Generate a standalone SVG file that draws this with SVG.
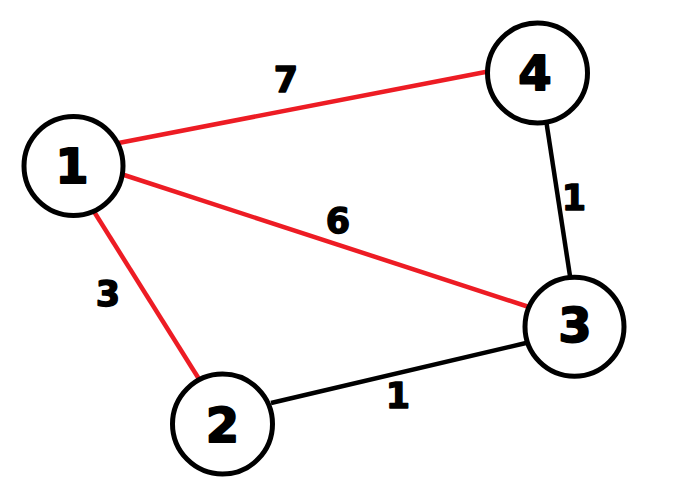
<svg xmlns="http://www.w3.org/2000/svg" width="681" height="490" viewBox="0 0 681 490">
<style>
.node{fill:#fff;stroke:#000;stroke-width:5}
.nl{font-family:"DejaVu Sans","Liberation Sans",sans-serif;font-weight:bold;font-size:48px;text-anchor:middle;fill:#000;stroke:#000;stroke-width:1.8;stroke-linejoin:round}
.el{font-family:"DejaVu Sans","Liberation Sans",sans-serif;font-weight:bold;font-size:35px;text-anchor:middle;fill:#000;stroke:#000;stroke-width:1.4;stroke-linejoin:round}
.red{stroke:#ED1C24;stroke-width:4.5;fill:none}
.blk{stroke:#000;stroke-width:4.5;fill:none}
</style>
<rect width="681" height="490" fill="#fff"/>
<g id="edges">
<line class="red" x1="116" y1="143.5" x2="488" y2="71.5"/>
<line class="red" x1="121" y1="174" x2="529" y2="307"/>
<line class="red" x1="93" y1="210" x2="199" y2="379"/>
<line class="blk" x1="271" y1="403" x2="526" y2="343"/>
<line class="blk" x1="546.5" y1="123" x2="570" y2="276"/>
<text class="el" x="286" y="92">7</text>
<text class="el" x="338" y="233">6</text>
<text class="el" x="108" y="306">3</text>
<text class="el" x="398" y="408">1</text>
<text class="el" x="574" y="210">1</text>
</g>
<g id="node1"><circle class="node" cx="73.5" cy="166" r="49.5"/><text class="nl" x="72" y="183">1</text></g>
<g id="node4"><circle class="node" cx="537.5" cy="73" r="50"/><text class="nl" x="535" y="90">4</text></g>
<g id="node3"><circle class="node" cx="574.5" cy="326.7" r="49.5"/><text class="nl" x="575" y="342">3</text></g>
<g id="node2"><circle class="node" cx="222.5" cy="424" r="50"/><text class="nl" x="222.5" y="442">2</text></g>
</svg>
